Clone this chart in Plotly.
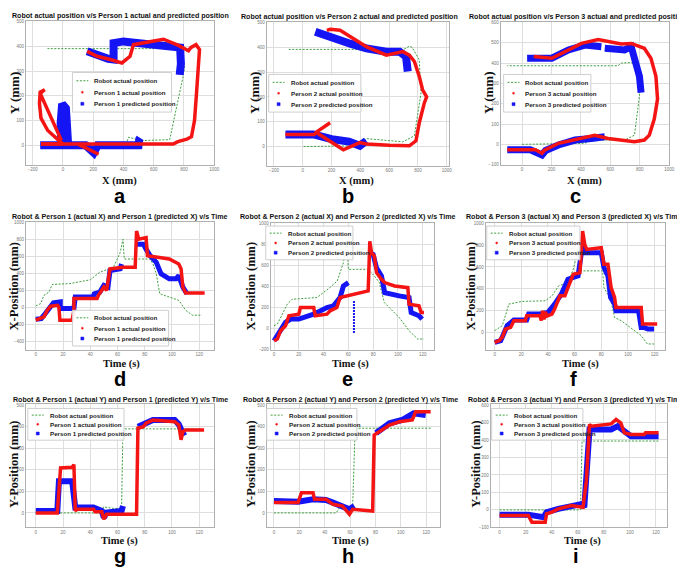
import plotly.graph_objects as go

W, H = 685, 567

# ---------------- DATA ----------------
# Panel a: XY paths (mm)
a_robot_x = [0, 415, 435, 510, 706, 750, 795, 805, 772, -102]
a_robot_y = [0, 3, 33, 19, 23, 147, 280, 320, 391, 391]
a_act_x = [-145, 0, -100, -145, -155, -150, -120, -150, -10, None,
           -145, 100, 236, None, 100, 400, 730, 760, 820, 850, 870, 882, 892, 903, 880, 845, 830, 760, 665, 575, 466, 444, 390, 313, 226, 160]
a_act_y = [5, 5, 60, 110, 170, 215, 225, 210, 20, None,
           5, 5, -36, None, 5, 5, 5, 15, 25, 35, 100, 200, 300, 387, 407, 395, 382, 405, 429, 420, 407, 360, 333, 347, 360, 380]
a_pred_x = [-150, -10, -15, -5, 20, 30, 35, 150, 204, 230, 350, 500, 505, 510, None,
            160, 220, 300, 335, 335, 400, 500, 600, 700, 775, 780, 772]
a_pred_y = [0, 0, 90, 168, 150, 60, 0, 0, -30, 0, 0, 0, 25, 30, None,
            380, 365, 350, 347, 413, 420, 415, 410, 400, 395, 330, 285]

# Panel b
b_robot_x = [6, 396, 442, 695, 775, 821, 809, 760, 740, 700, -97]
b_robot_y = [0, 3, 32, 19, 43, 216, 349, 400, 405, 392, 392]
b_act_x = [-120, 80, 100, 190, None, 100, 282, 396, 442, 600, 740, 786, 809, 844, 860, 832, 809, 775, 740, 695, 626, 580, 442, 259, 190, 167]
b_act_y = [49, 49, 60, 96, None, 55, -13, 16, 10, 5, 3, 23, 96, 176, 200, 229, 283, 343, 369, 383, 376, 369, 403, 469, 473, 469]
b_pred_x = [-120, 75, 200, 320, 396, 442, None, 87, 213, 330, 442, 580, 672, 717, 729]
b_pred_y = [49, 49, 30, 20, 3, 23, None, 463, 436, 415, 396, 383, 383, 363, 303]

# Panel c
c_robot_x = [0, 427, 472, 697, 764, 798, 787, 742, 674, 652, -101]
c_robot_y = [0, 5, 21, 21, 45, 239, 384, 403, 400, 387, 387]
c_act_x = [-101, 90, 135, 150, 247, 427, 494, 584, 764, 831, 865, 899, 921, 910, 876, 831, 787, 742, 674, 607, 517, 404, 315, 202, 79]
c_act_y = [-27, -27, -44, -30, 5, 37, 45, 29, 13, 21, 45, 126, 223, 335, 424, 473, 484, 497, 494, 505, 516, 497, 465, 424, 432]
c_pred_x = [-101, 56, 135, 160, 247, 360, 472, 562, None, 34, 202, 315, 427, 539, None, 562, 697, 742, 764, 798, 809]
c_pred_y = [-27, -27, -52, -30, -3, 21, 29, 37, None, 424, 424, 465, 489, 481, None, 473, 465, 481, 416, 335, 255]

# Panel d: X vs time, person 1
d_robot_t = [0, 3.6, 6, 9.7, 12, 25, 40, 47, 57, 62, 64, 65, 84, 86, 88.5, 91, 98, 105, 110, 115, 122]
d_robot_v = [16, 43, 141, 180, 270, 280, 325, 415, 473, 649, 805, 571, 571, 512, 395, 160, 121, 82, -35, -94, -94]
d_act_t = [0, 6, 8.5, 11, 16, 17, 17.7, 26.7, 28, 28, 45, 46, 50, 52, 54.5, 64, 73, 74, 75.6, 81, 82, 91, 98, 105, 106.7, 108, 110, 124]
d_act_v = [-153, -113, -35, 12, 23, 0, -153, -153, -35, 102, 102, 141, 239, 200, 454, 473, 473, 903, 806, 825, 610, 591, 571, 512, 454, 239, 170, 170]
d_pred_t = [0, 4, 7, 11, 13, 18, 18, 28, 29, 42, 43, 47, 50, 53, 54.5, 62, 63, None, 74, 79, 81, 84, 88.5, 92, 98, 103, 105, 108, 111]
d_pred_v = [-141, -135, -74, 4, 51, 63, -16, -16, 121, 121, 160, 180, 258, 239, 434, 454, 512, None, 747, 747, 688, 610, 532, 395, 336, 336, 375, 239, 160]

# Panel e: X vs time, person 2
e_robot_t = [0, 2.7, 6.7, 10.7, 14.7, 34.7, 45, 51, 56, 58.7, 60, 74.7, 77, 81, 85, 89, 93, 101, 109, 116, 121]
e_robot_v = [25, 41, 135, 230, 277, 293, 387, 450, 624, 828, 561, 561, 545, 498, 435, 246, 198, 104, -22, -101, -101]
e_act_t = [0, 2.7, 5.3, 9.3, 12, 20, 21.3, 32, 33.3, 42.7, 45.3, 50.7, 53.3, 76, 77.3, 78.7, 81, 82.7, 86.7, 89.3, 97.3, 108, 109, 117, 118.7, 121]
e_act_v = [-117, -101, -22, 25, 120, 135, 198, 198, 120, 135, 167, 198, 293, 356, 828, 718, 687, 529, 466, 435, 403, 387, 230, 214, 151, 151]
e_pred_t = [0, 5.3, 9.3, 13.3, 20, 32, 42.7, 48, 53.3, 56, 60, None, 77.3, 80, 82.7, 86.7, 89.3, 98.7, 101, 109, 110.7, 117, 119.5]
e_pred_v = [-117, -10, 57, 88, 88, 135, 198, 214, 293, 403, 435, None, 718, 702, 576, 498, 340, 324, 309, 293, 151, 120, 88]
e_pred_burst_t = [64.5, 64.5]
e_pred_burst_v = [261, -54]

# Panel f: X vs time, person 3
f_robot_t = [0, 2, 5.7, 8, 10.6, 20.5, 38, 43, 48, 55, 59, 62.6, 65, 81, 82, 87, 90, 95, 100, 110, 114.6, 119.6]
f_robot_v = [18, 33, 64, 155, 261, 285, 291, 336, 427, 458, 579, 761, 564, 564, 412, 306, 139, 109, 64, -27, -103, -103]
f_act_t = [0, 3.2, 5.7, 8, 12, 14.4, 23, 24, 34, 35, 36, 37, 38, 39, 43, 45, 49, 52.7, 55, 59, 64, 66, 67.6, 69, 80, 82, 85, 86, 87.4, 90, 91, 110, 111, 122]
f_act_v = [-88, -73, -42, 33, 48, 109, 109, 155, 155, 110, 200, 120, 190, 150, 170, 215, 336, 336, 412, 533, 548, 927, 806, 760, 776, 624, 624, 548, 412, 321, 230, 230, 79, 79]
f_pred_t = [0, 4.5, 9.4, 14.4, 24, 25.5, 34, 40, 45, 50, 55, 62.6, 66, 67.6, 80, 82, 85, 87, 90, 91, 108, 110, 112, 115, 119.6]
f_pred_v = [-88, -73, 64, 115, 115, 170, 170, 185, 261, 351, 488, 518, 806, 730, 730, 594, 518, 321, 261, 200, 200, 48, 48, 33, 33]

# Panel g: Y vs time, person 1
g_robot_t = [0, 48, 49.7, 57, 63, 64, 122]
g_robot_v = [0, 0, 28, 21, 21, 390, 390]
g_act_t = [0, 15.8, 18.2, 26.7, 28, 29, 30.3, 42.4, 43.6, 48.5, 50, 52, 74, 75, 79, 81, 86, 102, 105, 106.7, 108, 110, 123.6]
g_act_v = [0, 0, 209, 212, 224, 9, 17, 17, 5, 5, -29, -6, -6, 393, 400, 416, 431, 423, 408, 339, 377, 385, 385]
g_pred_t = [0, 15.8, 17, 26.7, 29, 42.4, 48.5, 50, 52, 63, 64, None, 75, 86, 102, 105, 108, 110]
g_pred_v = [9, 9, 147, 147, 25, 25, 9, -21, 2, 9, 32, None, 400, 431, 431, 411, 370, 377]

# Panel h: Y vs time, person 2
h_robot_t = [0, 49, 51.7, 62, 64, 123.5]
h_robot_v = [0, 0, 25, 25, 393, 393]
h_act_t = [0, 19, 21.7, 30.8, 32, 41, 46.5, 54, 59.5, 62, 77.8, 79, 83, 87, 91, 98.7, 109, 111.7, 123.5]
h_act_v = [48, 48, 94, 94, 63, 63, 40, 32, -6, 17, 9, 362, 377, 393, 408, 423, 431, 469, 469]
h_pred_t = [0, 19, 30.8, 41, 46.5, 57, 59.5, 63.4, None, 80.4, 91, 101, 110, 119.6]
h_pred_v = [55, 52, 63, 60, 48, 25, 17, 32, None, 370, 416, 431, 462, 454]

# Panel i: Y vs time, person 3
i_robot_t = [0, 62, 63.3, 122]
i_robot_v = [0, 0, 394, 394]
i_act_t = [0, 22, 24.8, 35, 36, 40, 45, 50, 55, 64, 66.6, 69, 70.4, 85.6, 89.4, 93, 95.7, 100.8, 111, 112, 122]
i_act_v = [-32, -32, -70, -70, -23, -13, 6, 15, 25, 15, 167, 489, 479, 492, 517, 498, 441, 432, 432, 441, 441]
i_pred_t = [0, 22, 33.7, 36, 45, 55, 63, 65, 68, 69, 85.6, 90.6, 95.7, 100.8, 111, 122]
i_pred_v = [-27, -27, -42, -13, 6, 25, 34, 15, 356, 460, 460, 479, 451, 422, 422, 422]

titles = [
    "Robot actual position v/s Person 1 actual and predicted position",
    "Robot actual position v/s Person 2 actual and predicted position",
    "Robot actual position v/s Person 3 actual and predicted position",
    "Robot & Person 1 (actual X) and Person 1 (predicted X) v/s Time",
    "Robot & Person 2 (actual X) and Person 2 (predicted X) v/s Time",
    "Robot & Person 3 (actual X) and Person 3 (predicted X) v/s Time",
    "Robot & Person 1 (actual Y) and Person 1 (predicted Y) v/s Time",
    "Robot & Person 2 (actual Y) and Person 2 (predicted Y) v/s Time",
    "Robot & Person 3 (actual Y) and Person 3 (predicted Y) v/s Time",
]
panel_letters = ["a", "b", "c", "d", "e", "f", "g", "h", "i"]
persons = ["Person 1", "Person 2", "Person 3"] * 3
xlabels = ["X (mm)"] * 3 + ["Time (s)"] * 6
ylabels = ["Y (mm)"] * 3 + ["X-Position (mm)"] * 3 + ["Y-Position (mm)"] * 3

x_ticks = [[-200, 0, 200, 400, 600, 800, 1000]] * 3 + [[0, 20, 40, 60, 80, 100, 120]] * 6
y_ticks = [
    [0, 100, 200, 300, 400, 500], [0, 100, 200, 300, 400, 500], [-100, 0, 100, 200, 300, 400, 500, 600],
    [-400, -200, 0, 200, 400, 600, 800, 1000], [-200, 0, 200, 400, 600, 800, 1000], [0, 200, 400, 600, 800, 1000],
    [0, 100, 200, 300, 400, 500], [0, 100, 200, 300, 400, 500], [-100, 0, 100, 200, 300, 400, 500, 600],
]

series = [
    (a_robot_x, a_robot_y, a_act_x, a_act_y, a_pred_x, a_pred_y),
    (b_robot_x, b_robot_y, b_act_x, b_act_y, b_pred_x, b_pred_y),
    (c_robot_x, c_robot_y, c_act_x, c_act_y, c_pred_x, c_pred_y),
    (d_robot_t, d_robot_v, d_act_t, d_act_v, d_pred_t, d_pred_v),
    (e_robot_t, e_robot_v, e_act_t, e_act_v, e_pred_t, e_pred_v),
    (f_robot_t, f_robot_v, f_act_t, f_act_v, f_pred_t, f_pred_v),
    (g_robot_t, g_robot_v, g_act_t, g_act_v, g_pred_t, g_pred_v),
    (h_robot_t, h_robot_v, h_act_t, h_act_v, h_pred_t, h_pred_v),
    (i_robot_t, i_robot_v, i_act_t, i_act_v, i_pred_t, i_pred_v),
]

# ---------------- LAYOUT GEOMETRY (pixels) ----------------
boxes = [
    (18, 208, 11, 156), (261, 445, 12, 157), (497, 667, 12, 156),
    (18, 208, 214, 343), (265, 430, 215, 343), (482, 663, 215, 343),
    (18, 208, 398, 522), (261, 436, 398, 522), (487, 665, 398, 522),
]
x_ranges = [(-245, 1000), (-250, 1016), (-146, 1000),
            (-7.3, 131), (-2.7, 129.3), (-6.7, 128),
            (-7.3, 131), (-5.7, 131), (-6.8, 128.6)]
y_ranges = [(-78, 503), (-77, 503), (-100, 603),
            (-506, 1008), (-205, 1000), (-158, 1000),
            (-67, 503), (-67, 503), (-100, 603)]
title_pos = [(113, 6), (345, 7), (575, 7), (113, 209), (343, 209), (571, 209), (113, 393), (346, 393), (573, 393)]
xlab_pos = [(112, 173), (352, 173), (582, 173), (115, 357), (346, 357), (578, 357), (112, 536), (346, 536), (580, 536)]
ylab_pos = [(6, 84), (248, 84), (485, 84), (6, 278), (245, 278), (467, 278), (6, 458), (245, 458), (472, 458)]
letter_pos = [(113, 188), (343, 188), (573, 188), (113, 372), (343, 372), (571, 372), (113, 551), (343, 551), (573, 551)]
# legend boxes: left, top, width, height
legend_box = [(65, 63, 100, 40), (263, 65, 93, 38), (500, 65, 88, 38),
              (65, 303, 97, 36), (260, 218, 88, 34), (483, 218, 94, 34),
              (20, 402, 97, 32), (261, 402, 91, 32), (488, 402, 92, 32)]

def fx(px):
    return px / W

def fy(py):
    return 1 - py / H

SANS = "Liberation Sans, Arial, sans-serif"
SERIF = "Liberation Serif, Times New Roman, serif"
ROBOT_C = "#3f9f3f"
ACT_C = "#f41414"
PRED_C = "#1414f4"

fig = go.Figure()
layout = dict(
    width=W, height=H, margin=dict(l=0, r=0, t=0, b=0),
    paper_bgcolor="white", plot_bgcolor="white", showlegend=False,
)
annotations = []
shapes = []

thick_pred = [8, 8, 7, 5, 5, 5, 6, 6, 6]
thick_act = [3.5] * 9
ylab_size = [13, 13, 13, 12.5, 12.5, 12.5, 12.5, 12.5, 12.5]

for k in range(9):
    n = "" if k == 0 else str(k + 1)
    xa, ya = "x" + n, "y" + n
    l, r, t, b = boxes[k]
    common = dict(tickfont=dict(size=4.5, color="#777777", family=SANS),
                  showgrid=True, gridcolor="#dedede", gridwidth=1, zeroline=False,
                  showline=True, linecolor="#b0b0b0", linewidth=1, mirror=True,
                  ticks="", ticklen=0)
    layout["xaxis" + n] = dict(domain=[fx(l), fx(r)], anchor=ya, range=list(x_ranges[k]),
                               tickvals=x_ticks[k], **common)
    layout["yaxis" + n] = dict(domain=[fy(b), fy(t)], anchor=xa, range=list(y_ranges[k]),
                               tickvals=y_ticks[k], **common)
    rx, ry, ax_, ay_, px_, py_ = series[k]
    fig.add_trace(go.Scatter(x=rx, y=ry, mode="lines", xaxis=xa, yaxis=ya,
                             line=dict(color=ROBOT_C, width=1, dash="2px,1.5px"),
                             name="Robot actual position", hoverinfo="skip"))
    fig.add_trace(go.Scatter(x=px_, y=py_, mode="lines", xaxis=xa, yaxis=ya,
                             line=dict(color=PRED_C, width=thick_pred[k]),
                             name=persons[k] + " predicted position", hoverinfo="skip"))
    if k == 4:
        fig.add_trace(go.Scatter(x=e_pred_burst_t, y=e_pred_burst_v, mode="lines", xaxis=xa, yaxis=ya,
                                 line=dict(color=PRED_C, width=2, dash="2px,1px"),
                                 name=persons[k] + " predicted position", hoverinfo="skip"))
    fig.add_trace(go.Scatter(x=ax_, y=ay_, mode="lines", xaxis=xa, yaxis=ya,
                             line=dict(color=ACT_C, width=thick_act[k]),
                             name=persons[k] + " actual position", hoverinfo="skip"))

    # ----- legend (drawn as a boxed key) -----
    lx, ly, lw, lh = legend_box[k]
    shapes.append(dict(type="rect", xref="paper", yref="paper",
                       x0=fx(lx), x1=fx(lx + lw), y0=fy(ly + lh), y1=fy(ly),
                       line=dict(color="#cfcfcf", width=1), fillcolor="rgba(255,255,255,0.9)"))
    rows = [ly + lh * 0.21, ly + lh * 0.5, ly + lh * 0.79]
    shapes.append(dict(type="line", xref="paper", yref="paper",
                       x0=fx(lx + 4), x1=fx(lx + 16), y0=fy(rows[0]), y1=fy(rows[0]),
                       line=dict(color=ROBOT_C, width=1, dash="2px,1.5px")))
    shapes.append(dict(type="circle", xref="paper", yref="paper",
                       x0=fx(lx + 9), x1=fx(lx + 11), y0=fy(rows[1] + 1), y1=fy(rows[1] - 1),
                       line=dict(color=ACT_C, width=0.5), fillcolor=ACT_C))
    shapes.append(dict(type="rect", xref="paper", yref="paper",
                       x0=fx(lx + 8.5), x1=fx(lx + 11.5), y0=fy(rows[2] + 1.5), y1=fy(rows[2] - 1.5),
                       line=dict(color=PRED_C, width=0.5), fillcolor=PRED_C))
    labels = ["Robot actual position", persons[k] + " actual position", persons[k] + " predicted position"]
    for txt, ry_ in zip(labels, rows):
        annotations.append(dict(text="<b>" + txt + "</b>", x=fx(lx + 20), y=fy(ry_),
                                xref="paper", yref="paper", showarrow=False,
                                xanchor="left", yanchor="middle",
                                font=dict(family=SANS, size=6.2, color="#222222")))

    tx, ty = title_pos[k]
    annotations.append(dict(text="<b>" + titles[k] + "</b>", x=fx(tx), y=fy(ty),
                            xref="paper", yref="paper", showarrow=False,
                            xanchor="center", yanchor="middle",
                            font=dict(family=SANS, size=7.1, color="#111111")))
    xx, xy = xlab_pos[k]
    annotations.append(dict(text="<b>" + xlabels[k] + "</b>", x=fx(xx), y=fy(xy),
                            xref="paper", yref="paper", showarrow=False,
                            xanchor="center", yanchor="middle",
                            font=dict(family=SERIF, size=10.5, color="#111111")))
    yx, yy = ylab_pos[k]
    annotations.append(dict(text="<b>" + ylabels[k] + "</b>", x=fx(yx), y=fy(yy),
                            xref="paper", yref="paper", showarrow=False, textangle=-90,
                            xanchor="center", yanchor="middle",
                            font=dict(family=SERIF, size=ylab_size[k], color="#111111")))
    lpx, lpy = letter_pos[k]
    annotations.append(dict(text="<b>" + panel_letters[k] + "</b>", x=fx(lpx), y=fy(lpy),
                            xref="paper", yref="paper", showarrow=False,
                            xanchor="center", yanchor="middle",
                            font=dict(family=SANS, size=20, color="#000000")))

layout["annotations"] = annotations
layout["shapes"] = shapes
fig.update_layout(**layout)
fig.write_html("out.html")
